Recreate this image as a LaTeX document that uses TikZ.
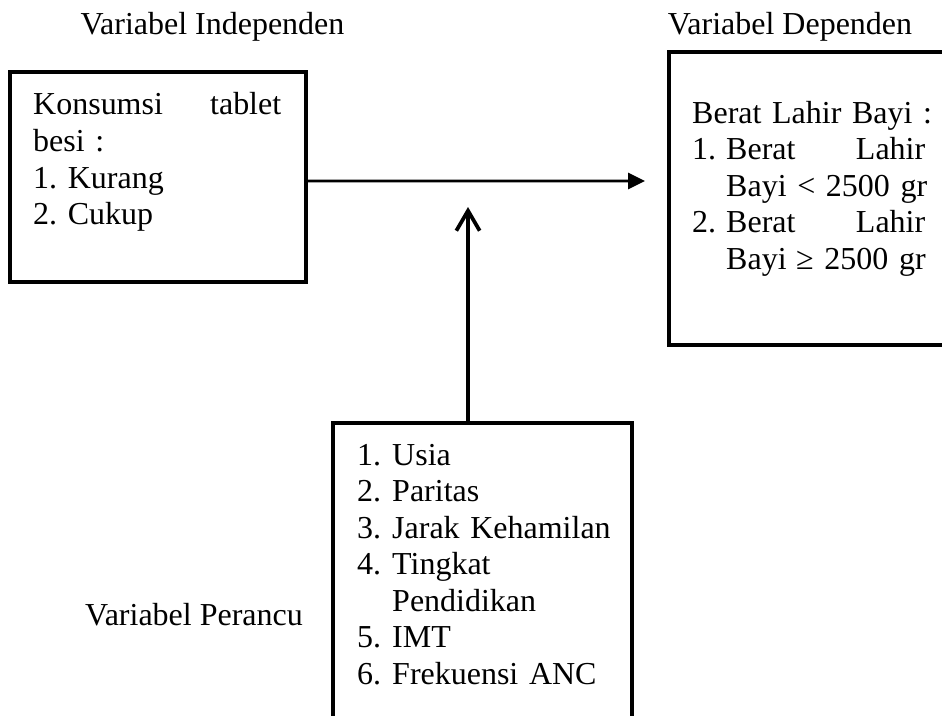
\documentclass[tikz,border=0pt]{standalone}
\usepackage{fontspec}
\setmainfont{Liberation Serif}
\usepackage{tikz}
\usetikzlibrary{arrows.meta, positioning, calc}

\begin{document}
\frenchspacing
\begin{tikzpicture}[
        kotak/.style={
            draw,
            line width=3.6pt,
            outer sep=0pt,
            inner sep=0pt
        },
        isi/.style={
            anchor=base west,
            inner sep=0pt,
            font=\fontsize{27.3pt}{31.2pt}\selectfont
        },
        judul/.style={
            anchor=base,
            inner sep=0pt,
            font=\fontsize{27.3pt}{31.2pt}\selectfont
        },
        panah/.style={
            -{Triangle[length=0.51cm, width=0.48cm]},
            line width=2.4pt
        },
        panahtegak/.style={
            -{Straight Barb[length=0.6cm, width=0.7cm]},
            line width=3.2pt
        }
    ]

    \path[use as bounding box, clip] (0,0) rectangle (28.26,-21.48);

    \node[kotak, minimum width=8.88cm, minimum height=6.30cm] (bebas) at (4.74,-5.31) {};
    \node[kotak, minimum width=9cm, minimum height=8.79cm] (terikat) at (24.57,-5.955) {};
    \node[kotak, minimum width=8.97cm, minimum height=10.31cm] (perancu) at (14.475,-17.845) {};

    \node[isi, text width=7.8cm] (isibebas) at (0.99,-3.45)
    {\makebox[7.44cm]{Konsumsi\hfill tablet}\\
    besi :\\
    1. Kurang\\
    2. Cukup};

    \node[isi, text width=7.4cm] (isiterikat) at (20.76,-3.69)
    {Berat Lahir Bayi :\\
    \makebox[6.99cm]{\makebox[1.02cm][l]{1.}Berat\hfill Lahir}\\
    \hspace*{1.02cm}Bayi < 2500 gr\\
    \makebox[6.99cm]{\makebox[1.02cm][l]{2.}Berat\hfill Lahir}\\
    \hspace*{1.02cm}Bayi\hspace{0.3em}≥ 2500 gr};

    \node[isi, text width=8cm] (isiperancu) at (10.71,-13.95)
    {\makebox[1.05cm][l]{1.}Usia\\
    \makebox[1.05cm][l]{2.}Paritas\\
    \makebox[1.05cm][l]{3.}Jarak Kehamilan\\
    \makebox[1.05cm][l]{4.}Tingkat\\
    \hspace*{1.05cm}Pendidikan\\
    \makebox[1.05cm][l]{5.}IMT\\
    \makebox[1.05cm][l]{6.}Frekuensi ANC};

    \node[judul] (labelbebas) at (6.375,-1.05) {Variabel Independen};
    \node[judul] (labelterikat) at (23.7,-1.05) {Variabel Dependen};
    \node[judul] (labelperancu) at (5.82,-18.75) {Variabel Perancu};

    \coordinate (ujung) at (19.35,-5.43);
    \coordinate (temu) at (14.04,-6.21);

    \draw[panah] ([yshift=-0.12cm]bebas.east) -- (ujung);
    \draw[panahtegak] (perancu.north -| temu) -- (temu);

    \end{tikzpicture}
\end{document}
